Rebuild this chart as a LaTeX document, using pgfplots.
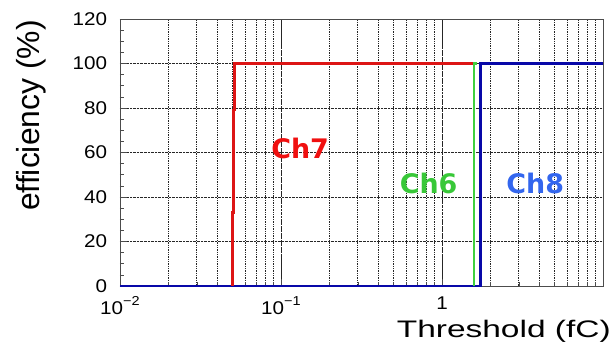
\documentclass[border=0pt]{standalone}
\usepackage{pgfplots}
\pgfplotsset{compat=1.18}
\usepackage{fontspec}
\setmainfont{Liberation Sans}
\newfontfamily\bfont{DejaVu Sans}
\definecolor{cred}{HTML}{DD1515}
\definecolor{cgreen}{HTML}{40D040}
\definecolor{cblue}{HTML}{0808A8}
\definecolor{tred}{HTML}{F01010}
\definecolor{tgreen}{HTML}{38C838}
\definecolor{tblue}{HTML}{3366EE}
\begin{document}
\begin{tikzpicture}
\path[use as bounding box] (-120bp,-61bp) rectangle (496bp,286bp);
\begin{axis}[
  name=ax, at={(0,0)}, anchor=south west,
  scale only axis, width=483bp, height=267bp,
  xmode=log, xmin=0.01, xmax=10, ymin=0, ymax=120,
  xtick={0.01,0.1,1,10},
  xticklabels={10\raisebox{0.5em}{\fontsize{13}{13}\selectfont −2},10\raisebox{0.5em}{\fontsize{13}{13}\selectfont −1},1,{}},
  ytick={0,20,...,120},
  minor y tick num=3,
  xmajorgrids, xminorgrids, ymajorgrids,
  grid style={densely dotted, black!85, line width=0.75pt},
  minor grid style={densely dotted, black!85, line width=0.75pt},
  axis line style={black!70, line width=0.9pt},
  tick style={black!70, line width=0.6pt},
  major tick length=7bp, minor tick length=4bp,
  tick align=inside,
  xtick pos=bottom, ytick pos=left,
  /pgf/number format/assume math mode=true,
  yticklabel style={font=\fontsize{18.5}{18.5}\selectfont, xscale=1.12, xshift=-8bp},
  xticklabel style={font=\fontsize{18.5}{18.5}\selectfont, xscale=1.12, yshift=-7bp},
  clip=false,
]
\addplot[cblue, line width=2.5bp] coordinates {(0.01,0) (1.74,0) (1.74,100) (10,100)};
\addplot[cred, line width=2.2bp] coordinates {(0.0500,0) (0.0500,33) (0.0507,33) (0.0507,79) (0.0515,79) (0.0515,100) (1.58,100)};
\addplot[cgreen, line width=2.5bp] coordinates {(1.58,0) (1.58,100) (1.66,100)};
\node[text=tred, font=\bfont\bfseries\fontsize{27}{27}\selectfont] at (axis cs:0.1315,62) {Ch7};
\node[text=tgreen, font=\bfont\bfseries\fontsize{27}{27}\selectfont] at (axis cs:0.826,46.3) {Ch6};
\node[text=tblue, font=\bfont\bfseries\fontsize{27}{27}\selectfont] at (axis cs:3.79,46.3) {Ch8};
\end{axis}
\node[anchor=base east, inner sep=0pt, font=\fontsize{24}{24}\selectfont, xscale=1.4] at (491bp,-51bp) {Threshold (fC)};
\node[anchor=east, rotate=90, inner sep=0pt, font=\fontsize{32}{32}\selectfont] at (-89bp,266bp) {efficiency (\%)};
\end{tikzpicture}
\end{document}
